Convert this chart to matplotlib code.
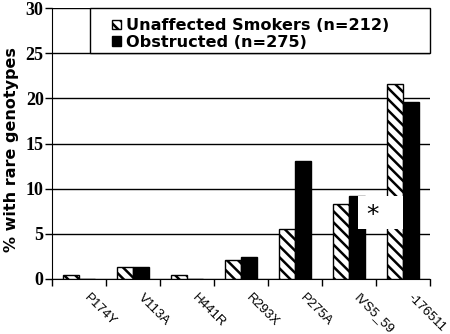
import matplotlib.pyplot as plt
import numpy as np
from matplotlib.patches import Rectangle

# Values (% with rare genotypes)
variants = ['P174Y', 'V113A', 'H441R', 'R293X', 'P275A', 'IVS5_59', '-176511']
smokers = [0.47, 1.3, 0.47, 2.14, 5.5, 8.25, 21.6]
obstructed = [0.0, 1.3, 0.0, 2.43, 13.05, 9.2, 19.6]

plt.rcParams['hatch.linewidth'] = 1.8

fig = plt.figure(figsize=(4.5, 3.34), dpi=100)
ax = fig.add_axes([0.1156, 0.1647, 0.84, 0.8113])

x = np.arange(len(variants)) + 0.5
w = 0.3
ax.bar(x - w / 2, smokers, w, color='white', edgecolor='black', hatch='\\\\\\',
       linewidth=1, label='Unaffected Smokers (n=212)', zorder=3)
ax.bar(x + w / 2, obstructed, w, color='black', edgecolor='black',
       linewidth=1, label='Obstructed (n=275)', zorder=3)

# significance marker
ax.add_patch(Rectangle((5.67, 5.5), 0.83, 3.7, facecolor='white',
                       edgecolor='none', zorder=4))
ax.text(5.93, 7.1, '*', ha='center', va='center', fontsize=18,
        family='DejaVu Sans', zorder=5)

ax.set_xlim(0, len(variants))
ax.set_ylim(0, 30)
ax.set_yticks(range(0, 31, 5))
ax.yaxis.grid(True, color='black', linewidth=1, zorder=0)
ax.set_axisbelow(True)
ax.set_xticks(range(len(variants) + 1))
ax.set_xticklabels([])
for i, name in enumerate(variants):
    ax.text(i + 0.7, -1.4, name, rotation=-45, ha='left', va='top',
            rotation_mode='anchor', fontsize=9.5, family='Liberation Sans')

for lab in ax.get_yticklabels():
    lab.set_family('Liberation Serif')
    lab.set_fontweight('bold')
    lab.set_fontsize(13)
ax.tick_params(axis='both', direction='out', length=5, width=1, color='black')
ax.tick_params(axis='y', pad=1)
ax.spines['top'].set_visible(False)
ax.spines['right'].set_visible(False)

ax.set_ylabel('% with rare genotypes', fontsize=11.5, fontweight='bold',
              family='DejaVu Sans')
ax.yaxis.set_label_coords(-0.087, 0.476)

# legend box
ax.add_patch(Rectangle((0.1005, 0.8333), 0.8995, 0.1667, transform=ax.transAxes,
                       facecolor='white', edgecolor='black', linewidth=1,
                       zorder=6, clip_on=False))
leg = ax.legend(loc='upper left', bbox_to_anchor=(0.1587, 0.962), frameon=False,
                prop={'family': 'DejaVu Sans', 'weight': 'bold', 'size': 11.6},
                handlelength=0.55, handleheight=0.55, handletextpad=0.3,
                labelspacing=0.1, borderpad=0, borderaxespad=0)
leg.set_zorder(7)

fig.savefig('out.png', dpi=100)
